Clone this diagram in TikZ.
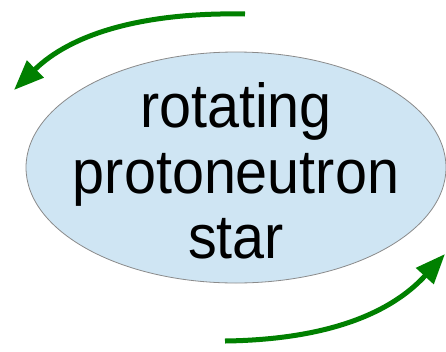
\documentclass[tikz,border=0pt]{standalone}
\usepackage{fontspec}
\setmainfont{Liberation Sans}
\usetikzlibrary{arrows.meta,shapes.geometric}
\definecolor{spingreen}{HTML}{008000}
\definecolor{starblue}{HTML}{CFE5F3}
\definecolor{rimgray}{HTML}{8A8A8A}

\begin{document}
\begin{tikzpicture}[x=1pt,y=-1pt, star/.style={ellipse,draw=rimgray,fill=starblue,line width=.8pt,minimum width=420pt,minimum height=231pt,inner sep=0pt}, startext/.style={align=center,inner sep=0pt,yscale=1.08,transform shape,font=\fontsize{57.5}{60.6}\selectfont}, spin/.style={draw=spingreen,line width=5pt,-{Triangle[length=30pt,width=23pt]}}]
\useasboundingbox (0,0) rectangle (446,351);
\node[star] (pns) at (236,167.5) {};
\node[startext] (pnslabel) at ([yshift=-3.6pt]pns.center) {rotating\\protoneutron\\star};
% rotation arrows
\coordinate (topstart) at (245,14);
\coordinate (topend) at (14,90);
\coordinate (botstart) at (225,341);
\coordinate (botend) at (445,254);
\draw[spin] (topstart) .. controls (140,12) and (70,35) .. (topend);
\draw[spin] (botstart) .. controls (300,340) and (380,325) .. (botend);
\end{tikzpicture}
\end{document}
